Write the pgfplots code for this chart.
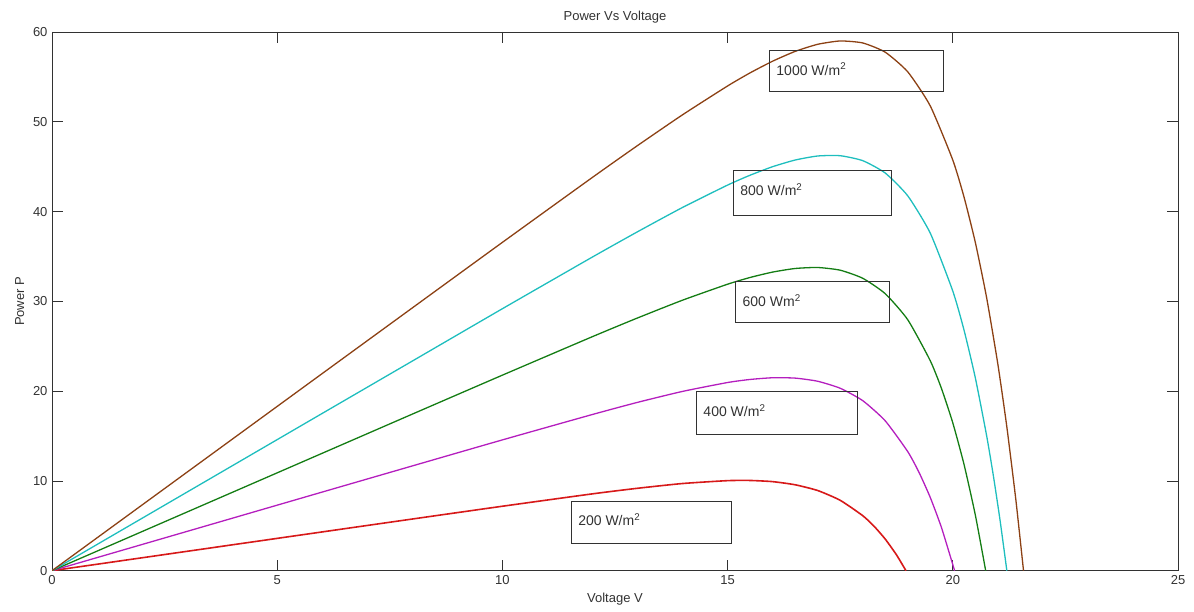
\documentclass[border=0pt]{standalone}
\usepackage{fontspec}
\setmainfont{Liberation Sans}
\usepackage{pgfplots}
\pgfplotsset{compat=1.18}
\definecolor{brownc}{RGB}{140,65,20}
\definecolor{cyanc}{RGB}{30,190,190}
\definecolor{greenc}{RGB}{20,125,20}
\definecolor{purplec}{RGB}{180,30,190}
\definecolor{redc}{RGB}{215,25,25}
\definecolor{axc}{RGB}{50,50,50}
\begin{document}
\fontsize{13}{15}\selectfont
\begin{tikzpicture}
\begin{axis}[
  name=ax,
  scale only axis,
  width=1126pt, height=538.7pt,
  xmin=0, xmax=25, ymin=0, ymax=60,
  xtick={0,5,10,15,20,25},
  ytick={0,10,20,30,40,50,60},
  tick align=inside,
  xtick pos=both, ytick pos=both,
  major tick length=11pt,
  axis line style={axc, line width=0.8pt},
  every tick/.style={axc, line width=0.8pt},
  tick label style={font=\fontsize{13}{15}\selectfont, text=axc},
  /pgf/number format/assume math mode=true,
  label style={font=\fontsize{13}{15}\selectfont, text=axc},
  title style={font=\fontsize{13}{15}\selectfont, text=axc, yshift=-2pt},
  title={Power Vs Voltage},
  xlabel={Voltage V},
  ylabel={Power P},
  every axis plot/.append style={line width=1.3pt, smooth, tension=0.35},
  clip=true,
]
% 200 W/m2
\addplot[redc, line width=1.6pt] coordinates {
(0,0) (1,0.72) (2,1.44) (4,2.88) (6,4.32) (8,5.756) (10,7.18) (12,8.56) (13,9.18) (14,9.71) (15,10.03) (15.5,10.05) (16,9.92) (16.5,9.57) (17,8.93) (17.5,7.84) (18,6.13) (18.25,4.96) (18.5,3.52) (18.75,1.76) (18.96,0)
};
% 400 W/m2
\addplot[purplec] coordinates {
(0,0) (1,1.46) (2,2.92) (4,5.84) (6,8.76) (8,11.67) (10,14.57) (12,17.4) (13,18.75) (14,19.97) (15,20.96) (15.5,21.3) (16,21.49) (16.5,21.45) (17,21.1) (17.5,20.32) (18,18.94) (18.5,16.69) (19,13.26) (19.25,10.95) (19.5,8.15) (19.75,4.78) (20.04,0)
};
% 600 W/m2
\addplot[greenc] coordinates {
(0,0) (1,2.18) (2,4.36) (4,8.72) (6,13.08) (8,17.44) (10,21.78) (12,26.07) (13,28.15) (14,30.13) (15,31.91) (15.5,32.66) (16,33.26) (16.5,33.66) (17,33.77) (17.5,33.47) (18,32.57) (18.5,30.85) (19,27.95) (19.5,23.38) (19.75,20.27) (20,16.46) (20.25,11.82) (20.5,6.2) (20.73,0)
};
% 800 W/m2
\addplot[cyanc] coordinates {
(0,0) (1,2.92) (2,5.84) (4,11.68) (6,17.52) (8,23.35) (10,29.18) (12,34.94) (13,37.75) (14,40.46) (15,42.95) (15.5,44.05) (16,45.0) (16.5,45.74) (17,46.19) (17.5,46.22) (18,45.67) (18.5,44.29) (19,41.75) (19.5,37.59) (20,31.14) (20.25,26.78) (20.5,21.48) (20.75,15.06) (20.9,10.59) (21.05,5.58) (21.2,0)
};
% 1000 W/m2
\addplot[brownc] coordinates {
(0,0) (1,3.66) (2,7.32) (4,14.64) (6,21.96) (8,29.27) (10,36.57) (12,43.81) (13,47.35) (14,50.78) (15,53.99) (15.5,55.45) (16,56.75) (16.5,57.84) (17,58.63) (17.5,59.0) (18,58.78) (18.5,57.75) (19,55.56) (19.5,51.76) (20,45.73) (20.25,41.6) (20.5,36.56) (20.75,30.43) (21,23.01) (21.2,16.0) (21.4,7.88) (21.57,0)
};
% annotation text boxes
\draw[axc, line width=0.8pt] (axis cs:15.93,57.94) rectangle (axis cs:19.78,53.37);
\node[anchor=west, inner sep=0pt, text=axc, font=\fontsize{14}{16}\selectfont] at (axis cs:16.08,55.86) {1000 W/m\textsuperscript{2}};
\draw[axc, line width=0.8pt] (axis cs:15.13,44.55) rectangle (axis cs:18.64,39.53);
\node[anchor=west, inner sep=0pt, text=axc, font=\fontsize{14}{16}\selectfont] at (axis cs:15.28,42.47) {800 W/m\textsuperscript{2}};
\draw[axc, line width=0.8pt] (axis cs:15.18,32.2) rectangle (axis cs:18.6,27.6);
\node[anchor=west, inner sep=0pt, text=axc, font=\fontsize{14}{16}\selectfont] at (axis cs:15.33,30.12) {600 Wm\textsuperscript{2}};
\draw[axc, line width=0.8pt] (axis cs:14.31,19.93) rectangle (axis cs:17.89,15.13);
\node[anchor=west, inner sep=0pt, text=axc, font=\fontsize{14}{16}\selectfont] at (axis cs:14.46,17.85) {400 W/m\textsuperscript{2}};
\draw[axc, line width=0.8pt] (axis cs:11.53,7.77) rectangle (axis cs:15.09,3.09);
\node[anchor=west, inner sep=0pt, text=axc, font=\fontsize{14}{16}\selectfont] at (axis cs:11.68,5.69) {200 W/m\textsuperscript{2}};
\end{axis}
\path (ax.south west) ++(-52pt,-40.3pt) coordinate (bbsw);
\path (ax.north east) ++(16pt,32pt) coordinate (bbne);
\path (bbsw) rectangle (bbne);
\end{tikzpicture}
\end{document}
